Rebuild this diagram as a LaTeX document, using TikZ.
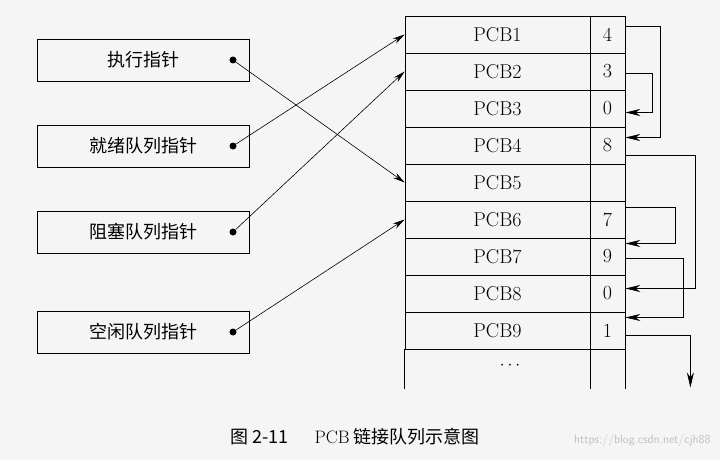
\documentclass[tikz,border=0pt]{standalone}
\usepackage{fontspec}
\newfontfamily\cjk{Noto Sans CJK SC}
\usetikzlibrary{arrows.meta}
\begin{document}
\begin{tikzpicture}[x=1pt,y=-1pt,
  lbox/.style={draw,thick,minimum width=212pt,minimum height=42pt,font=\cjk\fontsize{18}{18}\selectfont,inner sep=0pt},
  cell/.style={draw,thick,minimum width=185pt,minimum height=37pt,font=\fontsize{20}{20}\selectfont,inner sep=0pt},
  ncell/.style={draw,thick,minimum width=35pt,minimum height=37pt,font=\fontsize{20}{20}\selectfont,inner sep=0pt},
  ptr/.style={-{Stealth[length=12pt,width=6pt]},semithick},
  lnk/.style={-{Stealth[length=15pt,width=7pt]},semithick},
  dot/.style={circle,fill,inner sep=0pt,minimum size=7pt}]
\useasboundingbox (0,0) rectangle (720,460);
\fill[white!92!gray] (0,0) rectangle (720,460);
% left boxes
\node[lbox] (b1) at (143,60) {执行指针};
\node[lbox] (b2) at (143,146) {就绪队列指针};
\node[lbox] (b3) at (143,232) {阻塞队列指针};
\node[lbox] (b4) at (143,332) {空闲队列指针};
\node[dot] (d1) at (233,60) {};
\node[dot] (d2) at (233,146) {};
\node[dot] (d3) at (233,232) {};
\node[dot] (d4) at (233,332) {};
% table
\foreach \i/\v in {1/4,2/3,3/0,4/8,5/,6/7,7/9,8/0,9/1}{
  \node[cell] (p\i) at (497.5,{16+37*(\i-0.5)}) {PCB\i};
  \node[ncell] (n\i) at (607.5,{16+37*(\i-0.5)}) {\v};
}
\draw[thick] (p9.south west) -- ++(0,40) coordinate (e1);
\draw[thick] (p9.south east) -- ++(0,40) coordinate (e2);
\draw[thick] (n9.south east) -- ++(0,40) coordinate (e3);
\node[font=\fontsize{18}{18}\selectfont] (dots) at (510,366) {$\cdots$};
% pointers
\draw[ptr] (d1) -- (p5.west);
\draw[ptr] (d2) -- (p1.west);
\draw[ptr] (d3) -- (p2.west);
\draw[ptr] (d4) -- (p6.west);
% links
\draw[lnk] ([yshift=8pt]n1.east) -| ++(35,0) |- ([yshift=8pt]n4.east);
\draw[lnk] ([yshift=-2pt]n2.east) -| ++(27,0) |- ([yshift=-4pt]n3.east);
\draw[lnk] ([yshift=-10pt]n4.east) -| ++(70,0) |- ([yshift=5pt]n8.east);
\draw[lnk] ([yshift=12pt]n6.east) -| ++(50,0) |- ([yshift=13pt]n7.east);
\draw[lnk] ([yshift=-2pt]n7.east) -| ++(58,0) |- ([yshift=13pt]n9.east);
\draw[lnk] ([yshift=-5pt]n9.east) -| ++(65,52) coordinate (e4);
% caption
\node[font=\cjk\fontsize{18}{18}\selectfont] (cap) at (355,437) {图 2-11\quad\ \ \textrm{PCB} 链接队列示意图};
\node[font=\sffamily\fontsize{12}{12}\selectfont,text=gray!50,anchor=east] (wm) at (714,440) {https://blog.csdn.net/cjh88};
\end{tikzpicture}
\end{document}
